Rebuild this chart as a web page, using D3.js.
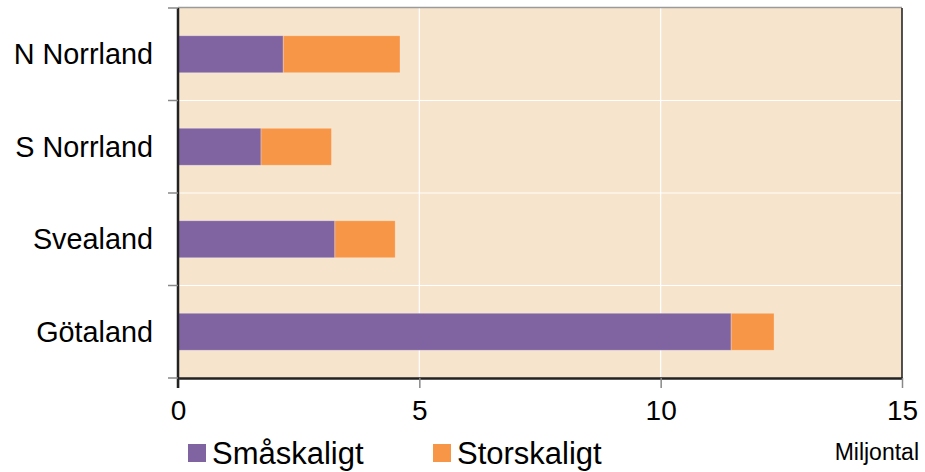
<!DOCTYPE html>
<html>
<head>
<meta charset="utf-8">
<script src="https://cdn.jsdelivr.net/npm/d3@7"></script>
<style>
  body { margin: 0; background: #fff; }
  text { font-family: "Liberation Sans", Arial, sans-serif; fill: #000; }
</style>
</head>
<body>
<svg id="chart" width="925" height="472"></svg>
<script>
// data
const regions = ['N Norrland', 'S Norrland', 'Svealand', 'Götaland']
const smaskaligt = [2.18, 1.72, 3.25, 11.46]
const storskaligt = [2.42, 1.46, 1.25, 0.89]
const seriesNames = ['Småskaligt', 'Storskaligt']
const xTicks = [0, 5, 10, 15]
const unitLabel = 'Miljontal'

const colors = { 'Småskaligt': '#8064a2', 'Storskaligt': '#f79646' }
const margin = { top: 8, right: 23, bottom: 94, left: 178 }
const width = 925 - margin.left - margin.right
const height = 472 - margin.top - margin.bottom

const svg = d3.select('#chart')
const g = svg.append('g').attr('transform', `translate(${margin.left}, ${margin.top})`)

const rows = regions.map((r, i) => ({ region: r, 'Småskaligt': smaskaligt[i], 'Storskaligt': storskaligt[i] }))
const stacked = d3.stack().keys(seriesNames)(rows)

const x = d3.scaleLinear().domain([0, 15]).range([0, width])
const y = d3.scaleBand().domain(regions).range([0, height]).paddingInner(0.6).paddingOuter(0.3)

// plot background
g.append('rect')
    .attr('width', width).attr('height', height)
    .attr('fill', '#f6e4cd')

// white grid lines
g.selectAll('.vgrid').data(xTicks.slice(1, -1)).join('line')
    .attr('x1', d => x(d)).attr('x2', d => x(d))
    .attr('y1', 0).attr('y2', height)
    .attr('stroke', '#fff').attr('stroke-width', 1.2)
const step = y.step()
g.selectAll('.hgrid').data(d3.range(1, regions.length)).join('line')
    .attr('x1', 0).attr('x2', width)
    .attr('y1', d => d * height / regions.length).attr('y2', d => d * height / regions.length)
    .attr('stroke', '#fff').attr('stroke-width', 1.2)

// bars
g.selectAll('.series').data(stacked).join('g')
    .attr('fill', d => colors[d.key])
    .selectAll('rect').data(d => d).join('rect')
    .attr('x', d => x(d[0]))
    .attr('y', d => y(d.data.region))
    .attr('width', d => x(d[1]) - x(d[0]))
    .attr('height', y.bandwidth())
    .attr('stroke', 'rgba(255,255,255,0.35)')
    .attr('stroke-width', 0.8)

// frame: grey top, dark right
g.append('line').attr('x1', 0).attr('x2', width).attr('y1', -0.5).attr('y2', -0.5)
    .attr('stroke', '#9a9a9a').attr('stroke-width', 1.5)
g.append('line').attr('x1', width).attr('x2', width).attr('y1', 0).attr('y2', height)
    .attr('stroke', '#1a1a1a').attr('stroke-width', 1.5)

// x axis
const xAxis = d3.axisBottom(x).tickValues(xTicks).tickSizeInner(10).tickSizeOuter(0).tickPadding(12)
const ax = g.append('g').attr('transform', `translate(0, ${height})`).call(xAxis)
ax.select('.domain').attr('stroke', '#222').attr('stroke-width', 2.5)
ax.selectAll('.tick line').attr('stroke', '#888').attr('stroke-width', 1.5)
ax.selectAll('.tick text').attr('font-size', '28px').attr('font-family', '"Liberation Sans", Arial, sans-serif')

// y axis: ticks at band edges
const ay = g.append('g')
ay.append('line').attr('x1', 0).attr('x2', 0).attr('y1', 0).attr('y2', height + 10)
    .attr('stroke', '#222').attr('stroke-width', 2.5)
ay.selectAll('.ytick').data(d3.range(0, regions.length + 1)).join('line')
    .attr('x1', -10).attr('x2', 0)
    .attr('y1', d => d * height / regions.length).attr('y2', d => d * height / regions.length)
    .attr('stroke', '#888').attr('stroke-width', 1.5)
ay.selectAll('text').data(regions).join('text')
    .attr('x', -25)
    .attr('y', d => y(d) + y.bandwidth() / 2)
    .attr('dy', '0.35em')
    .attr('text-anchor', 'end')
    .attr('font-size', '28.8px')
    .text(d => d)

// legend
const legend = svg.append('g').attr('transform', 'translate(188, 444)')
const legendX = [0, 245]
seriesNames.forEach((s, i) => {
    const lg = legend.append('g').attr('transform', `translate(${legendX[i]}, 0)`)
    lg.append('rect').attr('width', 18).attr('height', 18).attr('fill', colors[s])
    lg.append('text').attr('x', 24).attr('y', 20).attr('font-size', '31px').text(s)
})

svg.append('text')
    .attr('x', 919).attr('y', 460)
    .attr('text-anchor', 'end')
    .attr('font-size', '23px')
    .text(unitLabel)
</script>
</body>
</html>
